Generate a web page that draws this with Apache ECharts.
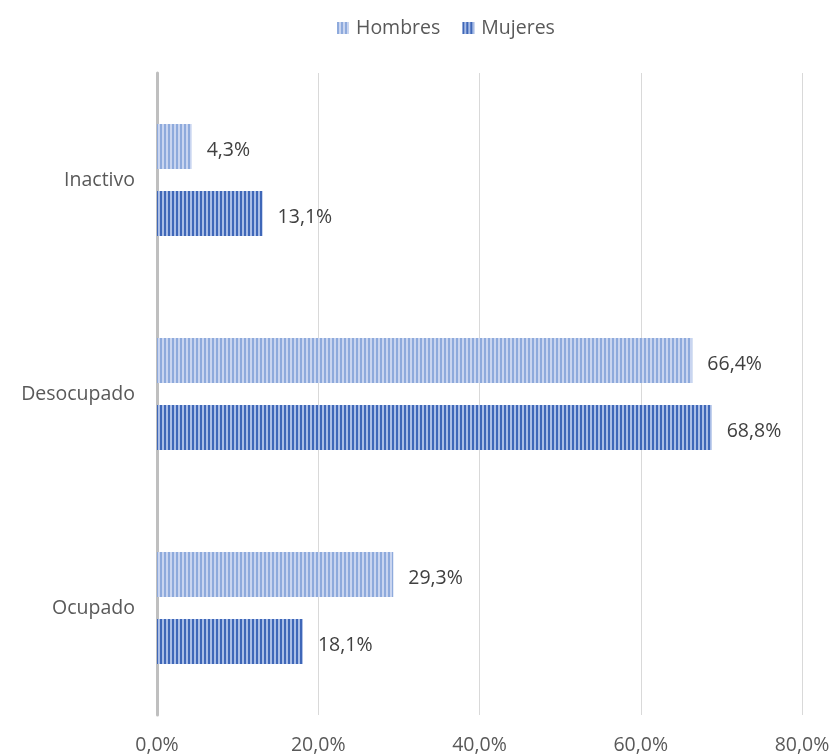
<!DOCTYPE html>
<html>
<head>
<meta charset="utf-8">
<script src="https://cdn.jsdelivr.net/npm/echarts@6/dist/echarts.min.js"></script>
<style>html,body{margin:0;padding:0;background:#fff;}#c{width:834px;height:756px;}</style>
</head>
<body>
<div id="c"></div>
<script>
const categories = ['Ocupado', 'Desocupado', 'Inactivo'];
const hombres = [29.3, 66.4, 4.3];
const mujeres = [18.1, 68.8, 13.1];
const xTicks = [0, 20, 40, 60, 80];

function stripe(c1, c2) {
  const cv = document.createElement('canvas');
  cv.width = 4; cv.height = 4;
  const ctx = cv.getContext('2d');
  ctx.fillStyle = c2; ctx.fillRect(0, 0, 4, 4);
  ctx.fillStyle = c1; ctx.fillRect(0, 0, 2, 4);
  return { image: cv, repeat: 'repeat' };
}
const fmt = v => v.toFixed(1).replace('.', ',') + '%';
const font = 'Open Sans';
const FS = 19.5;
const chart = echarts.init(document.getElementById('c'));
chart.setOption({
  animation: false,
  textStyle: { fontFamily: font },
  legend: {
    top: 13, left: 332, itemWidth: 12, itemHeight: 12, itemGap: 22, icon: 'rect',
    textStyle: { fontSize: FS, color: '#595959', fontFamily: font, padding: [0, 0, 0, 2] },
    data: ['Hombres', 'Mujeres']
  },
  grid: { left: 157, right: 32, top: 73, bottom: 41, containLabel: false },
  xAxis: {
    type: 'value', min: xTicks[0], max: xTicks[xTicks.length - 1], interval: 20,
    axisLine: { show: false }, axisTick: { show: false },
    splitLine: { lineStyle: { color: '#d9d9d9', width: 1 } },
    axisLabel: { formatter: v => fmt(v), fontSize: FS, color: '#595959', margin: 20 }
  },
  yAxis: {
    type: 'category', data: categories,
    axisLine: { lineStyle: { color: '#bfbfbf', width: 3 } },
    axisTick: { show: false },
    axisLabel: { fontSize: FS, color: '#595959', margin: 22, padding: [5, 0, 0, 0] }
  },
  series: [
    {
      name: 'Hombres', type: 'bar', data: hombres, barWidth: 45, barGap: '49%',
      itemStyle: { color: stripe('#8eaadc', '#c9d5f0') },
      label: { show: true, position: 'right', distance: 15, offset: [0, 4], formatter: p => fmt(p.value), fontSize: FS, color: '#404040' }
    },
    {
      name: 'Mujeres', type: 'bar', data: mujeres, barWidth: 45, barGap: '49%',
      itemStyle: { color: stripe('#3f67b8', '#a9bde6') },
      label: { show: true, position: 'right', distance: 15, offset: [0, 4], formatter: p => fmt(p.value), fontSize: FS, color: '#404040' }
    }
  ]
});
</script>
</body>
</html>
